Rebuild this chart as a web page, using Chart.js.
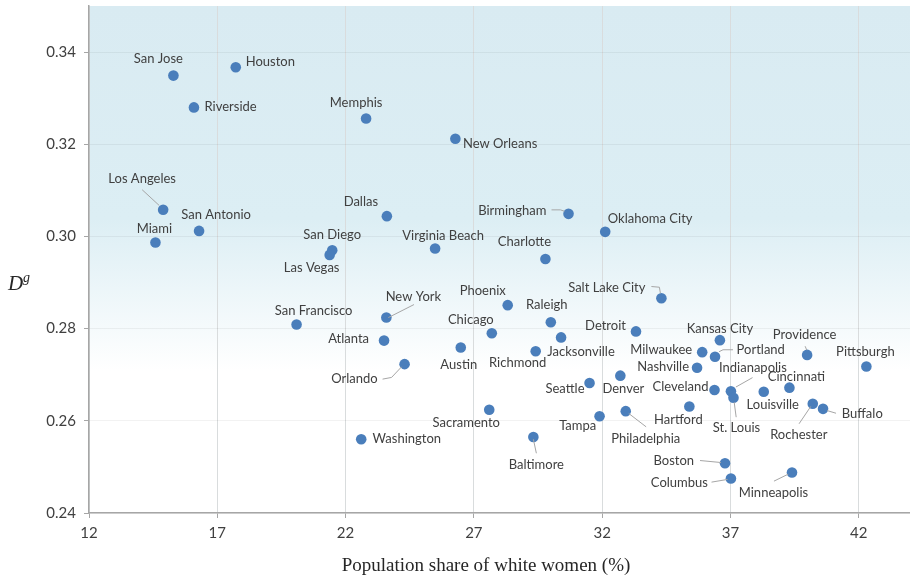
<!DOCTYPE html>
<html>
<head>
<meta charset="utf-8">
<script src="https://cdn.jsdelivr.net/npm/chart.js@4.4.1/dist/chart.umd.min.js"></script>
<style>
    html, body { margin: 0; padding: 0; background: #ffffff; }
    #wrap { width: 910px; height: 581px; }
</style>
</head>
<body>
<div id="wrap"><canvas id="scatter" width="910" height="581"></canvas></div>
<script>
const cities = ["San Jose", "Houston", "Riverside", "Memphis", "New Orleans", "Los Angeles", "San Antonio",
    "Miami", "Dallas", "San Diego", "Las Vegas", "Virginia Beach", "Birmingham", "Oklahoma City", "Charlotte",
    "Salt Lake City", "New York", "San Francisco", "Atlanta", "Orlando", "Washington", "Austin", "Sacramento",
    "Phoenix", "Raleigh", "Chicago", "Jacksonville", "Richmond", "Detroit", "Kansas City", "Milwaukee",
    "Portland", "Providence", "Pittsburgh", "Nashville", "Denver", "Seattle", "Cleveland", "Indianapolis",
    "St. Louis", "Louisville", "Cincinnati", "Rochester", "Buffalo", "Hartford", "Tampa", "Philadelphia",
    "Baltimore", "Boston", "Columbus", "Minneapolis"];
const whiteShare = [15.29, 17.72, 16.09, 22.80, 26.28, 14.89, 16.29,
    14.59, 23.61, 21.48, 21.38, 25.49, 30.69, 32.12, 29.79,
    34.31, 23.59, 20.09, 23.50, 24.30, 22.61, 26.49, 27.60,
    28.32, 30.00, 27.70, 30.40, 29.41, 33.32, 36.59, 35.90,
    36.40, 39.99, 42.30, 35.70, 32.71, 31.51, 36.38, 37.02,
    37.12, 38.30, 39.30, 40.21, 40.61, 35.40, 31.90, 32.92,
    29.32, 36.79, 37.02, 39.40];
const dg = [0.3349, 0.3367, 0.3280, 0.3256, 0.3212, 0.3058, 0.3012,
    0.2987, 0.3044, 0.2970, 0.2960, 0.2974, 0.3049, 0.3010, 0.2951,
    0.2866, 0.2824, 0.2809, 0.2774, 0.2723, 0.2560, 0.2759, 0.2624,
    0.2851, 0.2814, 0.2790, 0.2781, 0.2751, 0.2794, 0.2775, 0.2749,
    0.2739, 0.2743, 0.2718, 0.2715, 0.2698, 0.2682, 0.2667, 0.2664,
    0.2650, 0.2663, 0.2672, 0.2637, 0.2626, 0.2631, 0.2610, 0.2621,
    0.2565, 0.2508, 0.2475, 0.2488];
const xTicks = [12, 17, 22, 27, 32, 37, 42];
const yTicks = [0.24, 0.26, 0.28, 0.30, 0.32, 0.34];

// label placement: [align, dx, dy, leader line points] in px relative to the dot
const labelLayout = {
    "San Jose": ["c", -15, -17],
    "Houston": ["l", 10, -5],
    "Riverside": ["l", 10.6, -1],
    "Memphis": ["c", -10, -16],
    "New Orleans": ["l", 7.6, 5],
    "Los Angeles": ["c", -21, -31, [[-21, -20], [-4, -4.3]]],
    "San Antonio": ["c", 17, -16],
    "Miami": ["c", -1, -14],
    "Dallas": ["c", -26, -14],
    "San Diego": ["c", 0, -15],
    "Las Vegas": ["c", -18, 13],
    "Virginia Beach": ["c", 8, -13],
    "Birmingham": ["r", -22, -3, [[-17, -4], [-8, -4], [-4, -2.6]]],
    "Oklahoma City": ["l", 2.6, -12.6],
    "Charlotte": ["c", -21, -17],
    "Salt Lake City": ["r", -16, -10, [[-10, -11.7], [-2, -11], [-1, -5]]],
    "New York": ["c", 27, -21, [[2, 0], [27.6, -13]]],
    "San Francisco": ["c", 17, -14],
    "Atlanta": ["r", -15, -1.6],
    "Orlando": ["r", -27, 15, [[-22, 15], [-13, 13.3], [-3, 2.7]]],
    "Washington": ["l", 11.4, -0.7],
    "Austin": ["c", -2, 17],
    "Sacramento": ["c", -23, 13],
    "Phoenix": ["c", -25, -14],
    "Raleigh": ["c", -4, -17],
    "Chicago": ["c", -21, -13],
    "Jacksonville": ["c", 20, 14],
    "Richmond": ["c", -18, 12],
    "Detroit": ["r", -10, -6],
    "Kansas City": ["c", 0, -11],
    "Milwaukee": ["r", -10, -2],
    "Portland": ["l", 21.6, -6.6, [[4, -5], [8, -7], [18, -7]]],
    "Providence": ["c", -2.5, -20, [[-2, -8.7], [-0.3, -4.7]]],
    "Pittsburgh": ["c", -1, -15],
    "Nashville": ["r", -8, -1],
    "Denver": ["c", 3, 13],
    "Seattle": ["r", -5, 6],
    "Cleveland": ["r", -6, -3],
    "Indianapolis": ["c", 22, -24, [[21.6, -13.7], [5, -4.3]]],
    "St. Louis": ["c", 3, 30, [[0.7, 4.4], [2.7, 19.4]]],
    "Louisville": ["c", 9, 13],
    "Cincinnati": ["c", 7, -11],
    "Rochester": ["c", -14, 31, [[-13.7, 20], [-2, 2.7]]],
    "Buffalo": ["l", 18.7, 5, [[4, 1.7], [13, 4.4]]],
    "Hartford": ["c", -11, 13],
    "Tampa": ["r", -3.3, 10],
    "Philadelphia": ["c", 20, 28, [[3, 2.3], [20.4, 15.7]]],
    "Baltimore": ["c", 3, 28, [[0, 2.3], [3, 16.3]]],
    "Boston": ["r", -31, -2, [[-25, -2.7], [-4, -0.7]]],
    "Columbus": ["r", -23, 4, [[-19.4, 3.7], [-3.4, 1]]],
    "Minneapolis": ["c", -18.5, 20, [[-18, 8.7], [-3.7, 1.7]]]
};

const labelFont = "13px Lato, 'Open Sans', sans-serif";

const plotBackground = {
    id: "plotBackground",
    beforeDraw(chart) {
        const {ctx, chartArea} = chart;
        const g = ctx.createLinearGradient(0, chartArea.top, 0, chartArea.bottom);
        g.addColorStop(0, "#d9ebf2");
        g.addColorStop(0.42, "#dceef4");
        g.addColorStop(0.72, "#ffffff");
        g.addColorStop(1, "#ffffff");
        ctx.save();
        ctx.fillStyle = g;
        ctx.fillRect(chartArea.left, chartArea.top, chartArea.right - chartArea.left, chartArea.bottom - chartArea.top);
        ctx.restore();
    }
};

const cityLabels = {
    id: "cityLabels",
    afterDatasetsDraw(chart) {
        const ctx = chart.ctx;
        const points = chart.getDatasetMeta(0).data;
        ctx.save();
        ctx.font = labelFont;
        ctx.textBaseline = "middle";
        points.forEach((pt, i) => {
            const place = labelLayout[cities[i]];
            if (!place) return;
            const [align, dx, dy, leader] = place;
            if (leader) {
                ctx.strokeStyle = "#a6a6a6";
                ctx.lineWidth = 1;
                ctx.beginPath();
                leader.forEach((p, k) => {
                    if (k === 0) ctx.moveTo(pt.x + p[0], pt.y + p[1]);
                    else ctx.lineTo(pt.x + p[0], pt.y + p[1]);
                });
                ctx.stroke();
            }
            ctx.fillStyle = "#404040";
            ctx.textAlign = align === "l" ? "left" : (align === "r" ? "right" : "center");
            ctx.fillText(cities[i], pt.x + dx, pt.y + dy);
        });
        ctx.restore();
    }
};

const axisTitles = {
    id: "axisTitles",
    afterDraw(chart) {
        const ctx = chart.ctx;
        ctx.save();
        ctx.fillStyle = "#262626";
        ctx.textBaseline = "middle";
        ctx.textAlign = "center";
        ctx.font = "19px 'Liberation Serif', 'Times New Roman', serif";
        ctx.fillText("Population share of white women (%)", 486, 566);
        ctx.textAlign = "left";
        ctx.font = "italic 21px 'Liberation Serif', 'Times New Roman', serif";
        ctx.fillText("D", 8, 284);
        ctx.font = "italic 14px 'Liberation Serif', 'Times New Roman', serif";
        ctx.fillText("g", 23, 278);
        ctx.restore();
    }
};

let ctxScatter = document.getElementById("scatter").getContext("2d");

let scatterChart = new Chart(ctxScatter, {
    type: "scatter",
    data: {
        datasets: [{
            data: whiteShare.map((x, i) => ({x: x, y: dg[i]})),
            backgroundColor: "#4a7ebb",
            borderColor: "#4a7ebb",
            borderWidth: 0,
            pointRadius: 5.3,
            pointHoverRadius: 5.3
        }]
    },
    options: {
        responsive: false,
        animation: false,
        layout: { autoPadding: false, padding: { top: 6, right: 0, left: 0, bottom: 0 } },
        plugins: {
            legend: { display: false },
            tooltip: { enabled: false }
        },
        scales: {
            x: {
                type: "linear",
                min: 12,
                max: 44,
                afterBuildTicks: scale => { scale.ticks = xTicks.map(v => ({value: v})); },
                afterFit: scale => {
                    scale.height = 68;
                    scale.paddingLeft = 0;
                    scale.paddingRight = 0;
                },
                grid: { color: "#d9dcdd", tickColor: "#a6a6a6", tickLength: 5, lineWidth: 1 },
                border: { color: "#a6a6a6", width: 1.5 },
                ticks: {
                    color: "#404040",
                    font: { family: "Lato, 'Open Sans', sans-serif", size: 15 },
                    padding: 6,
                    maxRotation: 0,
                    callback: v => String(v)
                }
            },
            y: {
                type: "linear",
                min: 0.24,
                max: 0.35,
                afterBuildTicks: scale => { scale.ticks = yTicks.map(v => ({value: v})); },
                afterFit: scale => {
                    scale.width = 89;
                    scale.paddingTop = 0;
                    scale.paddingBottom = 0;
                },
                grid: { color: "rgba(0,0,0,0.05)", tickColor: "#a6a6a6", tickLength: 5, lineWidth: 1 },
                border: { color: "#a6a6a6", width: 1.5 },
                ticks: {
                    color: "#404040",
                    font: { family: "Lato, 'Open Sans', sans-serif", size: 15 },
                    padding: 8,
                    callback: v => v.toFixed(2)
                }
            }
        }
    },
    plugins: [plotBackground, cityLabels, axisTitles]
});
</script>
</body>
</html>
